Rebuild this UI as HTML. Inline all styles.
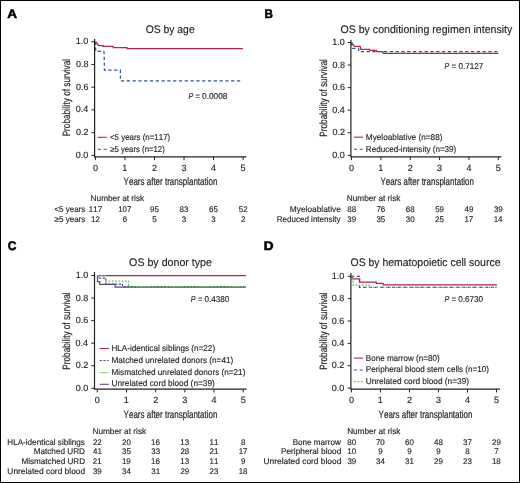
<!DOCTYPE html>
<html><head><meta charset="utf-8"><style>
html,body{margin:0;padding:0;background:#fff;overflow:hidden;}
svg{display:block;font-family:"Liberation Sans",sans-serif;font-kerning:none;will-change:transform;text-rendering:geometricPrecision;}
text{stroke:#231f20;stroke-width:0.15px;}
</style></head><body>
<svg width="520" height="483" viewBox="0 0 520 483">
<rect x="0.5" y="0.5" width="519" height="482" fill="#fff" stroke="#000" stroke-width="1"/>
<polyline points="95.60,41.70 98.50,45.50 103.20,45.50 103.20,46.30 113.20,46.30 113.20,47.60 127.00,47.60 127.00,48.60 243.00,48.60" fill="none" stroke="#b8224b" stroke-width="1.25"/>
<polyline points="95.70,41.70 95.70,51.25 103.90,51.25 104.20,55.00 104.40,70.20 120.40,70.20 120.40,80.80 242.50,80.80" fill="none" stroke="#34558f" stroke-width="1.25" stroke-dasharray="3.3 2.5"/>
<polyline points="351.70,42.50 354.50,46.30 360.20,46.30 360.80,49.30 369.60,49.30 369.80,50.40 376.50,50.40 376.70,51.60 383.00,51.60 383.20,53.30 498.60,53.30" fill="none" stroke="#b8224b" stroke-width="1.25"/>
<polyline points="351.60,42.50 352.30,48.40 358.60,48.40 358.80,51.60 498.60,51.60" fill="none" stroke="#34558f" stroke-width="1.25" stroke-dasharray="3.3 2.5"/>
<polyline points="97.50,275.50 246.00,275.50" fill="none" stroke="#b8224b" stroke-width="1.25"/>
<polyline points="97.50,275.50 97.50,281.50 99.70,281.50 99.70,284.30 115.20,284.30 115.20,287.20 246.00,287.20" fill="none" stroke="#66407f" stroke-width="1.25"/>
<polyline points="97.80,275.50 97.80,278.00 105.80,278.00 105.80,284.10 122.50,284.10 122.50,286.70 246.00,286.70" fill="none" stroke="#34558f" stroke-width="1.25" stroke-dasharray="2.2 1.5"/>
<polyline points="97.50,275.50 105.10,275.50 105.10,281.00 128.70,281.00 128.70,286.70 246.00,286.70" fill="none" stroke="#72c055" stroke-width="1.25" stroke-dasharray="1.8 1.5"/>
<polyline points="351.00,276.30 353.50,278.90 359.70,278.90 359.70,282.10 376.30,282.10 376.30,283.30 383.20,283.30 383.20,284.80 497.00,284.80" fill="none" stroke="#b8224b" stroke-width="1.25"/>
<polyline points="351.00,276.30 359.40,276.30 359.40,287.40 497.00,287.40" fill="none" stroke="#34558f" stroke-width="1.25" stroke-dasharray="3.3 2.5"/>
<polyline points="351.00,276.30 352.00,276.30 352.00,279.00 353.20,279.00 353.20,285.10 369.00,285.10 369.00,287.40 497.00,287.40" fill="none" stroke="#72c055" stroke-width="1.25" stroke-dasharray="1.8 1.5"/>
<text x="7.16" y="17.70" font-size="12.4" font-weight="bold" style="stroke:#000;stroke-width:0.55px" textLength="9.80" lengthAdjust="spacingAndGlyphs" fill="#000">A</text>
<text x="145.71" y="33.40" font-size="11.0" textLength="48.95" lengthAdjust="spacingAndGlyphs" fill="#231f20">OS by age</text>
<line x1="94.60" y1="38.90" x2="94.60" y2="156.90" stroke="#231f20" stroke-width="1.2"/>
<line x1="94.00" y1="156.90" x2="246.40" y2="156.90" stroke="#231f20" stroke-width="1.3"/>
<line x1="91.40" y1="41.70" x2="94.60" y2="41.70" stroke="#231f20" stroke-width="1.0"/>
<text x="75.84" y="44.25" font-size="9.0" textLength="12.51" lengthAdjust="spacingAndGlyphs" fill="#231f20">1.0</text>
<line x1="91.40" y1="64.44" x2="94.60" y2="64.44" stroke="#231f20" stroke-width="1.0"/>
<text x="75.88" y="66.99" font-size="9.0" textLength="12.51" lengthAdjust="spacingAndGlyphs" fill="#231f20">0.8</text>
<line x1="91.40" y1="87.18" x2="94.60" y2="87.18" stroke="#231f20" stroke-width="1.0"/>
<text x="75.88" y="89.73" font-size="9.0" textLength="12.51" lengthAdjust="spacingAndGlyphs" fill="#231f20">0.6</text>
<line x1="91.40" y1="109.92" x2="94.60" y2="109.92" stroke="#231f20" stroke-width="1.0"/>
<text x="75.75" y="112.47" font-size="9.0" textLength="12.51" lengthAdjust="spacingAndGlyphs" fill="#231f20">0.4</text>
<line x1="91.40" y1="132.66" x2="94.60" y2="132.66" stroke="#231f20" stroke-width="1.0"/>
<text x="75.94" y="135.21" font-size="9.0" textLength="12.51" lengthAdjust="spacingAndGlyphs" fill="#231f20">0.2</text>
<line x1="91.40" y1="155.40" x2="94.60" y2="155.40" stroke="#231f20" stroke-width="1.0"/>
<text x="75.84" y="157.95" font-size="9.0" textLength="12.51" lengthAdjust="spacingAndGlyphs" fill="#231f20">0.0</text>
<line x1="95.40" y1="156.90" x2="95.40" y2="160.10" stroke="#231f20" stroke-width="1.0"/>
<text x="92.90" y="170.60" font-size="9.0" textLength="5.01" lengthAdjust="spacingAndGlyphs" fill="#231f20">0</text>
<line x1="124.94" y1="156.90" x2="124.94" y2="160.10" stroke="#231f20" stroke-width="1.0"/>
<text x="122.31" y="170.60" font-size="9.0" textLength="5.01" lengthAdjust="spacingAndGlyphs" fill="#231f20">1</text>
<line x1="154.48" y1="156.90" x2="154.48" y2="160.10" stroke="#231f20" stroke-width="1.0"/>
<text x="151.98" y="170.60" font-size="9.0" textLength="5.01" lengthAdjust="spacingAndGlyphs" fill="#231f20">2</text>
<line x1="184.02" y1="156.90" x2="184.02" y2="160.10" stroke="#231f20" stroke-width="1.0"/>
<text x="181.54" y="170.60" font-size="9.0" textLength="5.01" lengthAdjust="spacingAndGlyphs" fill="#231f20">3</text>
<line x1="213.56" y1="156.90" x2="213.56" y2="160.10" stroke="#231f20" stroke-width="1.0"/>
<text x="211.09" y="170.60" font-size="9.0" textLength="5.01" lengthAdjust="spacingAndGlyphs" fill="#231f20">4</text>
<line x1="243.10" y1="156.90" x2="243.10" y2="160.10" stroke="#231f20" stroke-width="1.0"/>
<text x="240.61" y="170.60" font-size="9.0" textLength="5.01" lengthAdjust="spacingAndGlyphs" fill="#231f20">5</text>
<text transform="translate(70.10,135.70) rotate(-90)" style="stroke-width:0.2px" x="-0.67" y="0.00" font-size="10.6" textLength="77.42" lengthAdjust="spacingAndGlyphs" fill="#231f20">Probability of survival</text>
<text style="stroke-width:0.2px" x="123.62" y="184.60" font-size="10.6" textLength="93.80" lengthAdjust="spacingAndGlyphs" fill="#231f20">Years after transplantation</text>
<line x1="97.70" y1="137.30" x2="106.90" y2="137.30" stroke="#b8224b" stroke-width="1.1"/>
<text x="110.01" y="139.90" font-size="8.5" textLength="60.18" lengthAdjust="spacingAndGlyphs" fill="#231f20">&lt;5 years (n=117)</text>
<line x1="97.70" y1="149.20" x2="107.00" y2="149.20" stroke="#34558f" stroke-width="1.1" stroke-dasharray="3.3 2.5"/>
<text x="110.15" y="151.90" font-size="8.5" textLength="54.63" lengthAdjust="spacingAndGlyphs" fill="#231f20">≥5 years (n=12)</text>
<text x="188.48" y="98.80" font-size="8.5" font-style="italic" textLength="4.77" lengthAdjust="spacingAndGlyphs" fill="#231f20">P</text>
<text x="195.44" y="98.80" font-size="8.5" textLength="4.33" lengthAdjust="spacingAndGlyphs" fill="#231f20">=</text>
<text x="202.08" y="98.80" font-size="8.5" textLength="25.38" lengthAdjust="spacingAndGlyphs" fill="#231f20">0.0008</text>
<text x="90.62" y="200.70" font-size="8.4" textLength="53.56" lengthAdjust="spacingAndGlyphs" fill="#231f20">Number at risk</text>
<text x="54.41" y="212.20" font-size="8.4" textLength="30.88" lengthAdjust="spacingAndGlyphs" fill="#231f20">&lt;5 years</text>
<text x="54.55" y="221.80" font-size="8.4" textLength="30.75" lengthAdjust="spacingAndGlyphs" fill="#231f20">≥5 years</text>
<text x="88.86" y="212.20" font-size="8.2" textLength="13.27" lengthAdjust="spacingAndGlyphs" fill="#231f20">117</text>
<text x="118.20" y="212.20" font-size="8.2" textLength="13.27" lengthAdjust="spacingAndGlyphs" fill="#231f20">107</text>
<text x="150.04" y="212.20" font-size="8.2" textLength="8.85" lengthAdjust="spacingAndGlyphs" fill="#231f20">95</text>
<text x="179.60" y="212.20" font-size="8.2" textLength="8.85" lengthAdjust="spacingAndGlyphs" fill="#231f20">83</text>
<text x="209.10" y="212.20" font-size="8.2" textLength="8.85" lengthAdjust="spacingAndGlyphs" fill="#231f20">65</text>
<text x="238.72" y="212.20" font-size="8.2" textLength="8.85" lengthAdjust="spacingAndGlyphs" fill="#231f20">52</text>
<text x="91.07" y="221.80" font-size="8.2" textLength="8.85" lengthAdjust="spacingAndGlyphs" fill="#231f20">12</text>
<text x="122.70" y="221.80" font-size="8.2" textLength="4.42" lengthAdjust="spacingAndGlyphs" fill="#231f20">6</text>
<text x="152.28" y="221.80" font-size="8.2" textLength="4.42" lengthAdjust="spacingAndGlyphs" fill="#231f20">5</text>
<text x="181.83" y="221.80" font-size="8.2" textLength="4.42" lengthAdjust="spacingAndGlyphs" fill="#231f20">3</text>
<text x="211.37" y="221.80" font-size="8.2" textLength="4.42" lengthAdjust="spacingAndGlyphs" fill="#231f20">3</text>
<text x="240.89" y="221.80" font-size="8.2" textLength="4.42" lengthAdjust="spacingAndGlyphs" fill="#231f20">2</text>
<text x="264.42" y="17.70" font-size="12.4" font-weight="bold" style="stroke:#000;stroke-width:0.55px" textLength="8.41" lengthAdjust="spacingAndGlyphs" fill="#000">B</text>
<text x="340.50" y="33.20" font-size="11.0" textLength="171.82" lengthAdjust="spacingAndGlyphs" fill="#231f20">OS by conditioning regimen intensity</text>
<line x1="350.90" y1="39.80" x2="350.90" y2="156.90" stroke="#231f20" stroke-width="1.2"/>
<line x1="350.40" y1="156.90" x2="501.40" y2="156.90" stroke="#231f20" stroke-width="1.3"/>
<line x1="347.70" y1="42.50" x2="350.90" y2="42.50" stroke="#231f20" stroke-width="1.0"/>
<text x="332.34" y="45.05" font-size="9.0" textLength="12.51" lengthAdjust="spacingAndGlyphs" fill="#231f20">1.0</text>
<line x1="347.70" y1="65.06" x2="350.90" y2="65.06" stroke="#231f20" stroke-width="1.0"/>
<text x="332.38" y="67.61" font-size="9.0" textLength="12.51" lengthAdjust="spacingAndGlyphs" fill="#231f20">0.8</text>
<line x1="347.70" y1="87.62" x2="350.90" y2="87.62" stroke="#231f20" stroke-width="1.0"/>
<text x="332.38" y="90.17" font-size="9.0" textLength="12.51" lengthAdjust="spacingAndGlyphs" fill="#231f20">0.6</text>
<line x1="347.70" y1="110.18" x2="350.90" y2="110.18" stroke="#231f20" stroke-width="1.0"/>
<text x="332.25" y="112.73" font-size="9.0" textLength="12.51" lengthAdjust="spacingAndGlyphs" fill="#231f20">0.4</text>
<line x1="347.70" y1="132.74" x2="350.90" y2="132.74" stroke="#231f20" stroke-width="1.0"/>
<text x="332.44" y="135.29" font-size="9.0" textLength="12.51" lengthAdjust="spacingAndGlyphs" fill="#231f20">0.2</text>
<line x1="347.70" y1="155.30" x2="350.90" y2="155.30" stroke="#231f20" stroke-width="1.0"/>
<text x="332.34" y="157.85" font-size="9.0" textLength="12.51" lengthAdjust="spacingAndGlyphs" fill="#231f20">0.0</text>
<line x1="351.50" y1="156.90" x2="351.50" y2="160.10" stroke="#231f20" stroke-width="1.0"/>
<text x="349.00" y="170.60" font-size="9.0" textLength="5.01" lengthAdjust="spacingAndGlyphs" fill="#231f20">0</text>
<line x1="380.86" y1="156.90" x2="380.86" y2="160.10" stroke="#231f20" stroke-width="1.0"/>
<text x="378.23" y="170.60" font-size="9.0" textLength="5.01" lengthAdjust="spacingAndGlyphs" fill="#231f20">1</text>
<line x1="410.22" y1="156.90" x2="410.22" y2="160.10" stroke="#231f20" stroke-width="1.0"/>
<text x="407.72" y="170.60" font-size="9.0" textLength="5.01" lengthAdjust="spacingAndGlyphs" fill="#231f20">2</text>
<line x1="439.58" y1="156.90" x2="439.58" y2="160.10" stroke="#231f20" stroke-width="1.0"/>
<text x="437.10" y="170.60" font-size="9.0" textLength="5.01" lengthAdjust="spacingAndGlyphs" fill="#231f20">3</text>
<line x1="468.94" y1="156.90" x2="468.94" y2="160.10" stroke="#231f20" stroke-width="1.0"/>
<text x="466.47" y="170.60" font-size="9.0" textLength="5.01" lengthAdjust="spacingAndGlyphs" fill="#231f20">4</text>
<line x1="498.30" y1="156.90" x2="498.30" y2="160.10" stroke="#231f20" stroke-width="1.0"/>
<text x="495.81" y="170.60" font-size="9.0" textLength="5.01" lengthAdjust="spacingAndGlyphs" fill="#231f20">5</text>
<text transform="translate(326.80,136.00) rotate(-90)" style="stroke-width:0.2px" x="-0.67" y="0.00" font-size="10.6" textLength="77.42" lengthAdjust="spacingAndGlyphs" fill="#231f20">Probability of survival</text>
<text style="stroke-width:0.2px" x="380.42" y="184.80" font-size="10.6" textLength="93.59" lengthAdjust="spacingAndGlyphs" fill="#231f20">Years after transplantation</text>
<line x1="353.80" y1="137.20" x2="363.10" y2="137.20" stroke="#b8224b" stroke-width="1.1"/>
<text x="365.82" y="139.80" font-size="8.5" textLength="76.69" lengthAdjust="spacingAndGlyphs" fill="#231f20">Myeloablative (n=88)</text>
<line x1="353.80" y1="149.30" x2="363.10" y2="149.30" stroke="#34558f" stroke-width="1.1" stroke-dasharray="3.3 2.5"/>
<text x="365.84" y="151.80" font-size="8.5" textLength="90.46" lengthAdjust="spacingAndGlyphs" fill="#231f20">Reduced-intensity (n=39)</text>
<text x="444.59" y="69.30" font-size="8.5" font-style="italic" textLength="4.66" lengthAdjust="spacingAndGlyphs" fill="#231f20">P</text>
<text x="451.84" y="69.30" font-size="8.5" textLength="4.33" lengthAdjust="spacingAndGlyphs" fill="#231f20">=</text>
<text x="458.38" y="69.30" font-size="8.5" textLength="24.83" lengthAdjust="spacingAndGlyphs" fill="#231f20">0.7127</text>
<text x="346.82" y="200.60" font-size="8.4" textLength="53.56" lengthAdjust="spacingAndGlyphs" fill="#231f20">Number at risk</text>
<text x="289.82" y="212.20" font-size="8.4" textLength="51.06" lengthAdjust="spacingAndGlyphs" fill="#231f20">Myeloablative</text>
<text x="276.84" y="221.80" font-size="8.4" textLength="63.67" lengthAdjust="spacingAndGlyphs" fill="#231f20">Reduced intensity</text>
<text x="347.28" y="212.20" font-size="8.2" textLength="8.85" lengthAdjust="spacingAndGlyphs" fill="#231f20">88</text>
<text x="376.41" y="212.20" font-size="8.2" textLength="8.85" lengthAdjust="spacingAndGlyphs" fill="#231f20">76</text>
<text x="405.77" y="212.20" font-size="8.2" textLength="8.85" lengthAdjust="spacingAndGlyphs" fill="#231f20">68</text>
<text x="435.19" y="212.20" font-size="8.2" textLength="8.85" lengthAdjust="spacingAndGlyphs" fill="#231f20">59</text>
<text x="464.61" y="212.20" font-size="8.2" textLength="8.85" lengthAdjust="spacingAndGlyphs" fill="#231f20">49</text>
<text x="493.91" y="212.20" font-size="8.2" textLength="8.85" lengthAdjust="spacingAndGlyphs" fill="#231f20">39</text>
<text x="347.31" y="221.80" font-size="8.2" textLength="8.85" lengthAdjust="spacingAndGlyphs" fill="#231f20">39</text>
<text x="376.45" y="221.80" font-size="8.2" textLength="8.85" lengthAdjust="spacingAndGlyphs" fill="#231f20">35</text>
<text x="405.80" y="221.80" font-size="8.2" textLength="8.85" lengthAdjust="spacingAndGlyphs" fill="#231f20">30</text>
<text x="435.12" y="221.80" font-size="8.2" textLength="8.85" lengthAdjust="spacingAndGlyphs" fill="#231f20">25</text>
<text x="464.41" y="221.80" font-size="8.2" textLength="8.85" lengthAdjust="spacingAndGlyphs" fill="#231f20">17</text>
<text x="493.69" y="221.80" font-size="8.2" textLength="8.85" lengthAdjust="spacingAndGlyphs" fill="#231f20">14</text>
<text x="7.81" y="250.30" font-size="12.4" font-weight="bold" style="stroke:#000;stroke-width:0.55px" textLength="8.62" lengthAdjust="spacingAndGlyphs" fill="#000">C</text>
<text x="129.10" y="265.90" font-size="11.0" textLength="82.88" lengthAdjust="spacingAndGlyphs" fill="#231f20">OS by donor type</text>
<line x1="94.50" y1="272.10" x2="94.50" y2="389.20" stroke="#231f20" stroke-width="1.2"/>
<line x1="94.00" y1="389.20" x2="246.60" y2="389.20" stroke="#231f20" stroke-width="1.3"/>
<line x1="91.30" y1="275.50" x2="94.50" y2="275.50" stroke="#231f20" stroke-width="1.0"/>
<text x="75.64" y="278.05" font-size="9.0" textLength="12.51" lengthAdjust="spacingAndGlyphs" fill="#231f20">1.0</text>
<line x1="91.30" y1="298.06" x2="94.50" y2="298.06" stroke="#231f20" stroke-width="1.0"/>
<text x="75.68" y="300.61" font-size="9.0" textLength="12.51" lengthAdjust="spacingAndGlyphs" fill="#231f20">0.8</text>
<line x1="91.30" y1="320.62" x2="94.50" y2="320.62" stroke="#231f20" stroke-width="1.0"/>
<text x="75.68" y="323.17" font-size="9.0" textLength="12.51" lengthAdjust="spacingAndGlyphs" fill="#231f20">0.6</text>
<line x1="91.30" y1="343.18" x2="94.50" y2="343.18" stroke="#231f20" stroke-width="1.0"/>
<text x="75.55" y="345.73" font-size="9.0" textLength="12.51" lengthAdjust="spacingAndGlyphs" fill="#231f20">0.4</text>
<line x1="91.30" y1="365.74" x2="94.50" y2="365.74" stroke="#231f20" stroke-width="1.0"/>
<text x="75.74" y="368.29" font-size="9.0" textLength="12.51" lengthAdjust="spacingAndGlyphs" fill="#231f20">0.2</text>
<line x1="91.30" y1="388.30" x2="94.50" y2="388.30" stroke="#231f20" stroke-width="1.0"/>
<text x="75.64" y="390.85" font-size="9.0" textLength="12.51" lengthAdjust="spacingAndGlyphs" fill="#231f20">0.0</text>
<line x1="97.30" y1="389.20" x2="97.30" y2="392.40" stroke="#231f20" stroke-width="1.0"/>
<text x="94.80" y="403.00" font-size="9.0" textLength="5.01" lengthAdjust="spacingAndGlyphs" fill="#231f20">0</text>
<line x1="126.48" y1="389.20" x2="126.48" y2="392.40" stroke="#231f20" stroke-width="1.0"/>
<text x="123.85" y="403.00" font-size="9.0" textLength="5.01" lengthAdjust="spacingAndGlyphs" fill="#231f20">1</text>
<line x1="155.66" y1="389.20" x2="155.66" y2="392.40" stroke="#231f20" stroke-width="1.0"/>
<text x="153.16" y="403.00" font-size="9.0" textLength="5.01" lengthAdjust="spacingAndGlyphs" fill="#231f20">2</text>
<line x1="184.84" y1="389.20" x2="184.84" y2="392.40" stroke="#231f20" stroke-width="1.0"/>
<text x="182.36" y="403.00" font-size="9.0" textLength="5.01" lengthAdjust="spacingAndGlyphs" fill="#231f20">3</text>
<line x1="214.02" y1="389.20" x2="214.02" y2="392.40" stroke="#231f20" stroke-width="1.0"/>
<text x="211.55" y="403.00" font-size="9.0" textLength="5.01" lengthAdjust="spacingAndGlyphs" fill="#231f20">4</text>
<line x1="243.20" y1="389.20" x2="243.20" y2="392.40" stroke="#231f20" stroke-width="1.0"/>
<text x="240.71" y="403.00" font-size="9.0" textLength="5.01" lengthAdjust="spacingAndGlyphs" fill="#231f20">5</text>
<text transform="translate(70.00,369.00) rotate(-90)" style="stroke-width:0.2px" x="-0.67" y="0.00" font-size="10.6" textLength="77.32" lengthAdjust="spacingAndGlyphs" fill="#231f20">Probability of survival</text>
<text style="stroke-width:0.2px" x="123.62" y="417.60" font-size="10.6" textLength="93.80" lengthAdjust="spacingAndGlyphs" fill="#231f20">Years after transplantation</text>
<line x1="99.70" y1="348.50" x2="108.80" y2="348.50" stroke="#b8224b" stroke-width="1.1"/>
<text x="111.43" y="350.80" font-size="8.5" textLength="103.67" lengthAdjust="spacingAndGlyphs" fill="#231f20">HLA-identical siblings (n=22)</text>
<line x1="99.70" y1="360.50" x2="108.80" y2="360.50" stroke="#34558f" stroke-width="1.1" stroke-dasharray="2.2 1.5"/>
<text x="111.43" y="362.80" font-size="8.5" textLength="121.89" lengthAdjust="spacingAndGlyphs" fill="#231f20">Matched unrelated donors (n=41)</text>
<line x1="99.70" y1="372.60" x2="108.80" y2="372.60" stroke="#72c055" stroke-width="1.1" stroke-dasharray="1.5 0.85"/>
<text x="111.43" y="374.60" font-size="8.5" textLength="133.98" lengthAdjust="spacingAndGlyphs" fill="#231f20">Mismatched unrelated donors (n=21)</text>
<line x1="99.70" y1="384.30" x2="108.80" y2="384.30" stroke="#66407f" stroke-width="1.1"/>
<text x="111.46" y="386.20" font-size="8.5" textLength="103.35" lengthAdjust="spacingAndGlyphs" fill="#231f20">Unrelated cord blood (n=39)</text>
<text x="190.78" y="302.20" font-size="8.5" font-style="italic" textLength="4.77" lengthAdjust="spacingAndGlyphs" fill="#231f20">P</text>
<text x="198.04" y="302.20" font-size="8.5" textLength="4.33" lengthAdjust="spacingAndGlyphs" fill="#231f20">=</text>
<text x="204.38" y="302.20" font-size="8.5" textLength="24.94" lengthAdjust="spacingAndGlyphs" fill="#231f20">0.4380</text>
<text x="92.42" y="433.50" font-size="8.4" textLength="53.77" lengthAdjust="spacingAndGlyphs" fill="#231f20">Number at risk</text>
<text x="7.33" y="444.90" font-size="8.4" textLength="77.56" lengthAdjust="spacingAndGlyphs" fill="#231f20">HLA-identical siblings</text>
<text x="92.88" y="444.90" font-size="8.2" textLength="8.85" lengthAdjust="spacingAndGlyphs" fill="#231f20">22</text>
<text x="122.01" y="444.90" font-size="8.2" textLength="8.85" lengthAdjust="spacingAndGlyphs" fill="#231f20">20</text>
<text x="151.11" y="444.90" font-size="8.2" textLength="8.85" lengthAdjust="spacingAndGlyphs" fill="#231f20">16</text>
<text x="180.29" y="444.90" font-size="8.2" textLength="8.85" lengthAdjust="spacingAndGlyphs" fill="#231f20">13</text>
<text x="209.49" y="444.90" font-size="8.2" textLength="8.85" lengthAdjust="spacingAndGlyphs" fill="#231f20">11</text>
<text x="240.99" y="444.90" font-size="8.2" textLength="4.42" lengthAdjust="spacingAndGlyphs" fill="#231f20">8</text>
<text x="33.63" y="454.40" font-size="8.4" textLength="51.36" lengthAdjust="spacingAndGlyphs" fill="#231f20">Matched URD</text>
<text x="92.98" y="454.40" font-size="8.2" textLength="8.85" lengthAdjust="spacingAndGlyphs" fill="#231f20">41</text>
<text x="122.07" y="454.40" font-size="8.2" textLength="8.85" lengthAdjust="spacingAndGlyphs" fill="#231f20">35</text>
<text x="151.26" y="454.40" font-size="8.2" textLength="8.85" lengthAdjust="spacingAndGlyphs" fill="#231f20">33</text>
<text x="180.39" y="454.40" font-size="8.2" textLength="8.85" lengthAdjust="spacingAndGlyphs" fill="#231f20">28</text>
<text x="209.59" y="454.40" font-size="8.2" textLength="8.85" lengthAdjust="spacingAndGlyphs" fill="#231f20">21</text>
<text x="238.67" y="454.40" font-size="8.2" textLength="8.85" lengthAdjust="spacingAndGlyphs" fill="#231f20">17</text>
<text x="21.54" y="464.00" font-size="8.4" textLength="63.45" lengthAdjust="spacingAndGlyphs" fill="#231f20">Mismatched URD</text>
<text x="92.87" y="464.00" font-size="8.2" textLength="8.85" lengthAdjust="spacingAndGlyphs" fill="#231f20">21</text>
<text x="121.94" y="464.00" font-size="8.2" textLength="8.85" lengthAdjust="spacingAndGlyphs" fill="#231f20">19</text>
<text x="151.11" y="464.00" font-size="8.2" textLength="8.85" lengthAdjust="spacingAndGlyphs" fill="#231f20">16</text>
<text x="180.29" y="464.00" font-size="8.2" textLength="8.85" lengthAdjust="spacingAndGlyphs" fill="#231f20">13</text>
<text x="209.49" y="464.00" font-size="8.2" textLength="8.85" lengthAdjust="spacingAndGlyphs" fill="#231f20">11</text>
<text x="240.99" y="464.00" font-size="8.2" textLength="4.42" lengthAdjust="spacingAndGlyphs" fill="#231f20">9</text>
<text x="7.35" y="473.70" font-size="8.4" textLength="77.79" lengthAdjust="spacingAndGlyphs" fill="#231f20">Unrelated cord blood</text>
<text x="92.91" y="473.70" font-size="8.2" textLength="8.85" lengthAdjust="spacingAndGlyphs" fill="#231f20">39</text>
<text x="122.02" y="473.70" font-size="8.2" textLength="8.85" lengthAdjust="spacingAndGlyphs" fill="#231f20">34</text>
<text x="151.28" y="473.70" font-size="8.2" textLength="8.85" lengthAdjust="spacingAndGlyphs" fill="#231f20">31</text>
<text x="180.40" y="473.70" font-size="8.2" textLength="8.85" lengthAdjust="spacingAndGlyphs" fill="#231f20">29</text>
<text x="209.57" y="473.70" font-size="8.2" textLength="8.85" lengthAdjust="spacingAndGlyphs" fill="#231f20">23</text>
<text x="238.65" y="473.70" font-size="8.2" textLength="8.85" lengthAdjust="spacingAndGlyphs" fill="#231f20">18</text>
<text x="263.89" y="250.30" font-size="12.4" font-weight="bold" style="stroke:#000;stroke-width:0.55px" textLength="9.77" lengthAdjust="spacingAndGlyphs" fill="#000">D</text>
<text x="350.50" y="265.80" font-size="11.0" textLength="149.96" lengthAdjust="spacingAndGlyphs" fill="#231f20">OS by hematopoietic cell source</text>
<line x1="350.90" y1="273.30" x2="350.90" y2="389.20" stroke="#231f20" stroke-width="1.2"/>
<line x1="350.40" y1="389.20" x2="500.00" y2="389.20" stroke="#231f20" stroke-width="1.3"/>
<line x1="347.70" y1="276.30" x2="350.90" y2="276.30" stroke="#231f20" stroke-width="1.0"/>
<text x="331.74" y="278.85" font-size="9.0" textLength="12.51" lengthAdjust="spacingAndGlyphs" fill="#231f20">1.0</text>
<line x1="347.70" y1="298.66" x2="350.90" y2="298.66" stroke="#231f20" stroke-width="1.0"/>
<text x="331.78" y="301.21" font-size="9.0" textLength="12.51" lengthAdjust="spacingAndGlyphs" fill="#231f20">0.8</text>
<line x1="347.70" y1="321.02" x2="350.90" y2="321.02" stroke="#231f20" stroke-width="1.0"/>
<text x="331.78" y="323.57" font-size="9.0" textLength="12.51" lengthAdjust="spacingAndGlyphs" fill="#231f20">0.6</text>
<line x1="347.70" y1="343.38" x2="350.90" y2="343.38" stroke="#231f20" stroke-width="1.0"/>
<text x="331.65" y="345.93" font-size="9.0" textLength="12.51" lengthAdjust="spacingAndGlyphs" fill="#231f20">0.4</text>
<line x1="347.70" y1="365.74" x2="350.90" y2="365.74" stroke="#231f20" stroke-width="1.0"/>
<text x="331.84" y="368.29" font-size="9.0" textLength="12.51" lengthAdjust="spacingAndGlyphs" fill="#231f20">0.2</text>
<line x1="347.70" y1="388.10" x2="350.90" y2="388.10" stroke="#231f20" stroke-width="1.0"/>
<text x="331.74" y="390.65" font-size="9.0" textLength="12.51" lengthAdjust="spacingAndGlyphs" fill="#231f20">0.0</text>
<line x1="351.40" y1="389.20" x2="351.40" y2="392.40" stroke="#231f20" stroke-width="1.0"/>
<text x="348.90" y="403.00" font-size="9.0" textLength="5.01" lengthAdjust="spacingAndGlyphs" fill="#231f20">0</text>
<line x1="380.42" y1="389.20" x2="380.42" y2="392.40" stroke="#231f20" stroke-width="1.0"/>
<text x="377.79" y="403.00" font-size="9.0" textLength="5.01" lengthAdjust="spacingAndGlyphs" fill="#231f20">1</text>
<line x1="409.44" y1="389.20" x2="409.44" y2="392.40" stroke="#231f20" stroke-width="1.0"/>
<text x="406.94" y="403.00" font-size="9.0" textLength="5.01" lengthAdjust="spacingAndGlyphs" fill="#231f20">2</text>
<line x1="438.46" y1="389.20" x2="438.46" y2="392.40" stroke="#231f20" stroke-width="1.0"/>
<text x="435.98" y="403.00" font-size="9.0" textLength="5.01" lengthAdjust="spacingAndGlyphs" fill="#231f20">3</text>
<line x1="467.48" y1="389.20" x2="467.48" y2="392.40" stroke="#231f20" stroke-width="1.0"/>
<text x="465.01" y="403.00" font-size="9.0" textLength="5.01" lengthAdjust="spacingAndGlyphs" fill="#231f20">4</text>
<line x1="496.50" y1="389.20" x2="496.50" y2="392.40" stroke="#231f20" stroke-width="1.0"/>
<text x="494.01" y="403.00" font-size="9.0" textLength="5.01" lengthAdjust="spacingAndGlyphs" fill="#231f20">5</text>
<text transform="translate(326.80,369.00) rotate(-90)" style="stroke-width:0.2px" x="-0.67" y="0.00" font-size="10.6" textLength="77.32" lengthAdjust="spacingAndGlyphs" fill="#231f20">Probability of survival</text>
<text style="stroke-width:0.2px" x="378.62" y="417.60" font-size="10.6" textLength="93.80" lengthAdjust="spacingAndGlyphs" fill="#231f20">Years after transplantation</text>
<line x1="353.90" y1="358.10" x2="362.90" y2="358.10" stroke="#b8224b" stroke-width="1.1"/>
<text x="365.74" y="360.60" font-size="8.5" textLength="73.97" lengthAdjust="spacingAndGlyphs" fill="#231f20">Bone marrow (n=80)</text>
<line x1="353.90" y1="370.00" x2="362.90" y2="370.00" stroke="#34558f" stroke-width="1.1" stroke-dasharray="3.3 2.5"/>
<text x="365.73" y="372.40" font-size="8.5" textLength="123.27" lengthAdjust="spacingAndGlyphs" fill="#231f20">Peripheral blood stem cells (n=10)</text>
<line x1="353.90" y1="381.80" x2="362.90" y2="381.80" stroke="#72c055" stroke-width="1.1" stroke-dasharray="2.2 1.2"/>
<text x="365.76" y="384.20" font-size="8.5" textLength="103.25" lengthAdjust="spacingAndGlyphs" fill="#231f20">Unrelated cord blood (n=39)</text>
<text x="444.58" y="302.40" font-size="8.5" font-style="italic" textLength="4.77" lengthAdjust="spacingAndGlyphs" fill="#231f20">P</text>
<text x="451.84" y="302.40" font-size="8.5" textLength="4.33" lengthAdjust="spacingAndGlyphs" fill="#231f20">=</text>
<text x="458.18" y="302.40" font-size="8.5" textLength="24.83" lengthAdjust="spacingAndGlyphs" fill="#231f20">0.6730</text>
<text x="347.13" y="433.50" font-size="8.4" textLength="53.26" lengthAdjust="spacingAndGlyphs" fill="#231f20">Number at risk</text>
<text x="292.74" y="444.90" font-size="8.4" textLength="48.04" lengthAdjust="spacingAndGlyphs" fill="#231f20">Bone marrow</text>
<text x="347.36" y="444.90" font-size="8.2" textLength="8.85" lengthAdjust="spacingAndGlyphs" fill="#231f20">80</text>
<text x="375.95" y="444.90" font-size="8.2" textLength="8.85" lengthAdjust="spacingAndGlyphs" fill="#231f20">70</text>
<text x="404.97" y="444.90" font-size="8.2" textLength="8.85" lengthAdjust="spacingAndGlyphs" fill="#231f20">60</text>
<text x="434.12" y="444.90" font-size="8.2" textLength="8.85" lengthAdjust="spacingAndGlyphs" fill="#231f20">48</text>
<text x="463.10" y="444.90" font-size="8.2" textLength="8.85" lengthAdjust="spacingAndGlyphs" fill="#231f20">37</text>
<text x="492.06" y="444.90" font-size="8.2" textLength="8.85" lengthAdjust="spacingAndGlyphs" fill="#231f20">29</text>
<text x="280.92" y="454.40" font-size="8.4" textLength="60.42" lengthAdjust="spacingAndGlyphs" fill="#231f20">Peripheral blood</text>
<text x="347.23" y="454.40" font-size="8.2" textLength="8.85" lengthAdjust="spacingAndGlyphs" fill="#231f20">10</text>
<text x="378.21" y="454.40" font-size="8.2" textLength="4.42" lengthAdjust="spacingAndGlyphs" fill="#231f20">9</text>
<text x="407.23" y="454.40" font-size="8.2" textLength="4.42" lengthAdjust="spacingAndGlyphs" fill="#231f20">9</text>
<text x="436.25" y="454.40" font-size="8.2" textLength="4.42" lengthAdjust="spacingAndGlyphs" fill="#231f20">9</text>
<text x="465.27" y="454.40" font-size="8.2" textLength="4.42" lengthAdjust="spacingAndGlyphs" fill="#231f20">8</text>
<text x="494.28" y="454.40" font-size="8.2" textLength="4.42" lengthAdjust="spacingAndGlyphs" fill="#231f20">7</text>
<text x="263.55" y="464.00" font-size="8.4" textLength="77.79" lengthAdjust="spacingAndGlyphs" fill="#231f20">Unrelated cord blood</text>
<text x="347.41" y="464.00" font-size="8.2" textLength="8.85" lengthAdjust="spacingAndGlyphs" fill="#231f20">39</text>
<text x="375.96" y="464.00" font-size="8.2" textLength="8.85" lengthAdjust="spacingAndGlyphs" fill="#231f20">34</text>
<text x="405.06" y="464.00" font-size="8.2" textLength="8.85" lengthAdjust="spacingAndGlyphs" fill="#231f20">31</text>
<text x="434.02" y="464.00" font-size="8.2" textLength="8.85" lengthAdjust="spacingAndGlyphs" fill="#231f20">29</text>
<text x="463.03" y="464.00" font-size="8.2" textLength="8.85" lengthAdjust="spacingAndGlyphs" fill="#231f20">23</text>
<text x="491.95" y="464.00" font-size="8.2" textLength="8.85" lengthAdjust="spacingAndGlyphs" fill="#231f20">18</text>
</svg>
</body></html>
